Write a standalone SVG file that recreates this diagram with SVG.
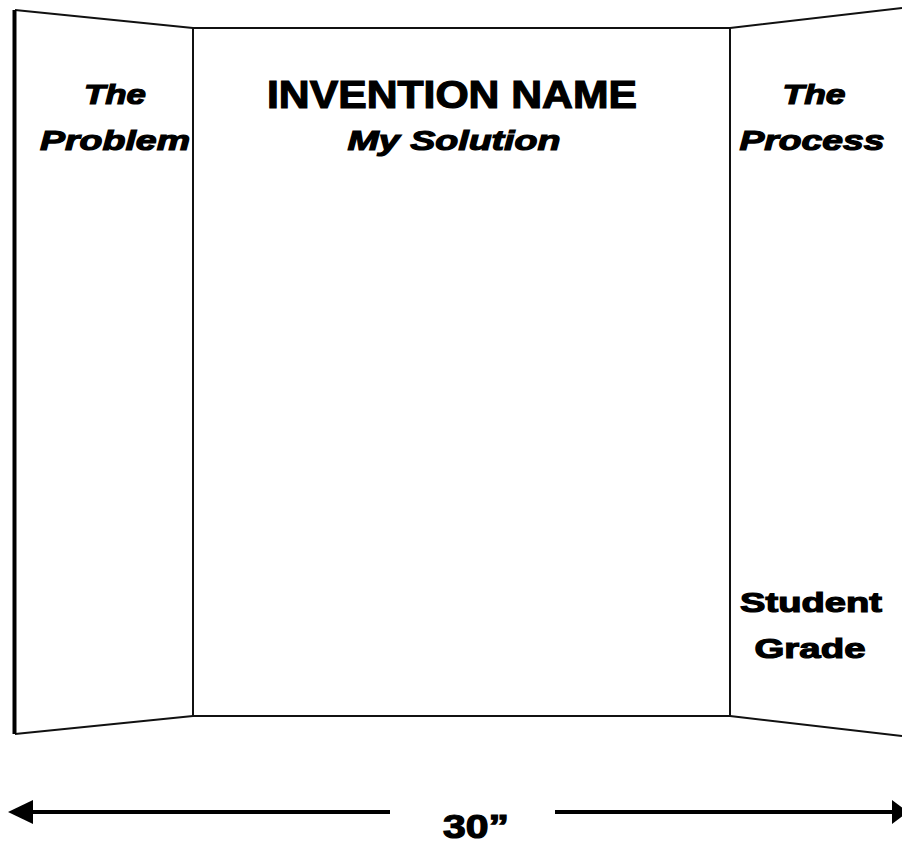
<svg xmlns="http://www.w3.org/2000/svg" width="902" height="844" viewBox="0 0 902 844">
<style>
.ln{stroke:#111;stroke-width:2;fill:none}
.t{font-family:"Liberation Sans",Arial,sans-serif;font-weight:bold;fill:#000;stroke:#000;stroke-width:1.2}
.i{font-style:italic}
</style>
<defs>
<marker id="ah" markerWidth="10" markerHeight="10" refX="8" refY="5" orient="auto" markerUnits="userSpaceOnUse" viewBox="0 0 10 10">
<path d="M0,0 L10,5 L0,10 z" fill="#000"/>
</marker>
</defs>
<rect width="902" height="844" fill="#fff"/>
<g id="left-panel">
<path class="ln" d="M193,28 L15,10 M15,734 L193,716"/>
<line x1="14.5" y1="10" x2="14.5" y2="734" stroke="#000" stroke-width="4"/>
<text class="t i" x="115" y="104" font-size="28" text-anchor="middle" textLength="62" lengthAdjust="spacingAndGlyphs">The</text>
<text class="t i" x="115" y="150" font-size="28" text-anchor="middle" textLength="150" lengthAdjust="spacingAndGlyphs">Problem</text>
</g>
<g id="center-panel">
<rect class="ln" x="193" y="28" width="537" height="688"/>
<text class="t" x="452" y="108" font-size="38" text-anchor="middle" textLength="370" lengthAdjust="spacingAndGlyphs">INVENTION NAME</text>
<text class="t i" x="454" y="150" font-size="28" text-anchor="middle" textLength="213" lengthAdjust="spacingAndGlyphs">My Solution</text>
</g>
<g id="right-panel">
<path class="ln" d="M730,28 L902,8 M730,716 L902,736"/>
<text class="t i" x="814" y="104" font-size="28" text-anchor="middle" textLength="63" lengthAdjust="spacingAndGlyphs">The</text>
<text class="t i" x="812" y="150" font-size="28" text-anchor="middle" textLength="145" lengthAdjust="spacingAndGlyphs">Process</text>
<text class="t" x="811" y="612" font-size="28" text-anchor="middle" textLength="142" lengthAdjust="spacingAndGlyphs">Student</text>
<text class="t" x="810" y="658" font-size="28" text-anchor="middle" textLength="111" lengthAdjust="spacingAndGlyphs">Grade</text>
</g>
<g id="connectors">
<line x1="390" y1="812" x2="14" y2="812" stroke="#000" stroke-width="4"/>
<path d="M8,812 L33,800 L33,824 z" fill="#000"/>
<line x1="555" y1="812" x2="895" y2="812" stroke="#000" stroke-width="4"/>
<path d="M908,812 L892,800 L892,824 z" fill="#000"/>
</g>
<g id="dimension">
<text class="t" x="476" y="838" font-size="33" text-anchor="middle" textLength="66" lengthAdjust="spacingAndGlyphs">30”</text>
</g>
</svg>
